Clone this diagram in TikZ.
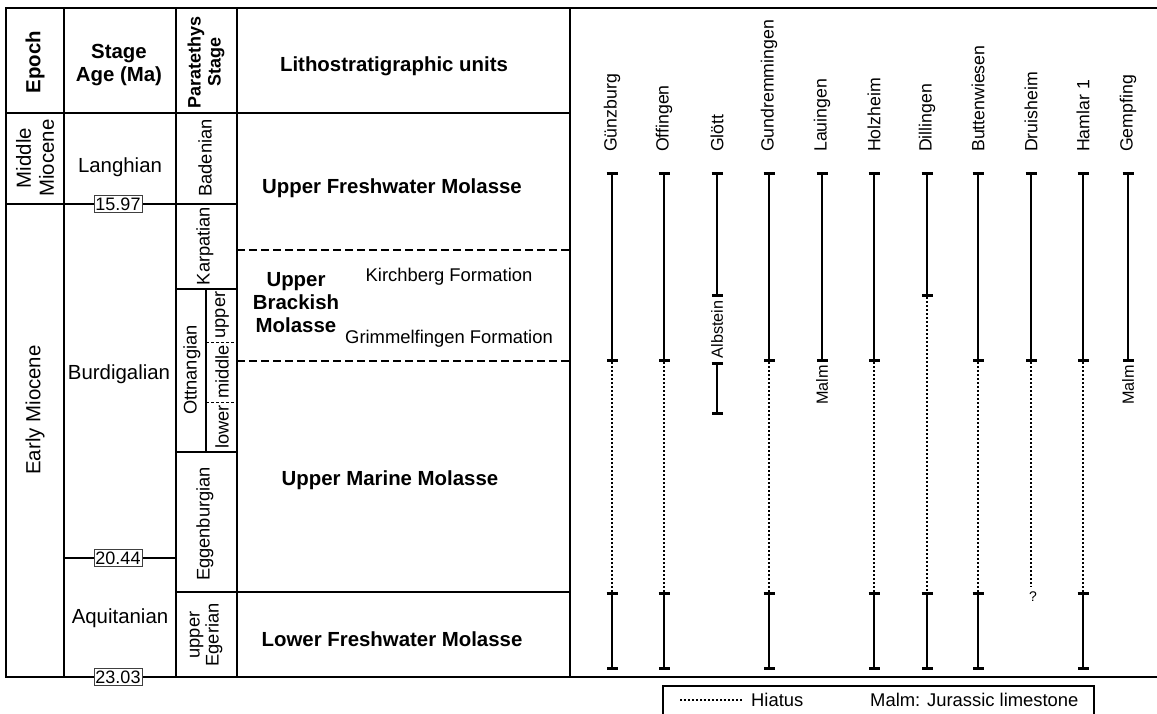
\documentclass[tikz,border=0pt]{standalone}
\usepackage{fontspec}
\setmainfont{Liberation Sans}
\usetikzlibrary{arrows.meta}
\newcommand{\sizefont}[2]{\fontsize{#1pt}{#2pt}\selectfont}
\tikzset{every node/.style={font=\sizefont{18.4}{20}, inner sep=0pt}}
\colorlet{linecol}{black}
\colorlet{boxcol}{black!75}
\tikzset{
  tabline/.style={line width=2.3pt, linecol},
  unitline/.style={line width=1.6pt, linecol, dash pattern=on 8pt off 4pt},
  subline/.style={line width=0.8pt, linecol, dash pattern=on 3pt off 2pt},
  boldlab/.style={font=\sizefont{20.4}{23}\bfseries, align=center},
  bigrot/.style={font=\sizefont{20.4}{23}, rotate=90, align=center},
  rotlab/.style={font=\sizefont{18.3}{19}, rotate=90, align=center},
  agebox/.style={draw=boxcol, fill=white, line width=0.8pt, minimum width=48pt,
    minimum height=17pt, font=\sizefont{18}{18}},
  wellname/.style={rotate=90, anchor=west, font=\sizefont{17.7}{18}},
  smalllab/.style={rotate=90, font=\sizefont{16.2}{16}},
  wellbar/.style={line width=2pt,
    arrows={Bar[width=11pt, line width=2.6pt]-Bar[width=11pt, line width=2.6pt]}},
  hiatus/.style={line width=2pt, dash pattern=on 2pt off 2pt},
}

\begin{document}
\begin{tikzpicture}[x=1pt, y=-1pt]
  \useasboundingbox (0,0) rectangle (1157,713);

  % Frame and columns.
  \draw[tabline] (1157,8) -- (6,8) -- (6,677) -- (1157,677);
  \foreach \cx in {64,176,237,570}
    \draw[tabline] (\cx,8) -- (\cx,677);
  \draw[tabline] (6,113) -- (570,113);

  % Time boundaries.
  \draw[tabline] (6,204) -- (237,204);
  \draw[tabline] (176,289) -- (237,289);
  \draw[tabline] (176,452) -- (237,452);
  \draw[tabline] (64,558) -- (176,558);
  \draw[tabline] (176,592) -- (570,592);
  \draw[tabline] (206,289) -- (206,452);
  \draw[subline] (206,342) -- (237,342);
  \draw[subline] (206,402) -- (237,402);

  % Unit boundaries.
  \draw[unitline] (237,250) -- (570,250);
  \draw[unitline] (237,361) -- (570,361);

  % Header.
  \node[boldlab, rotate=90] (epochhd) at (35,62) {Epoch};
  \node[boldlab] (stagehd) at (119,65) {Stage\\Age (Ma)};
  \node[boldlab, font=\sizefont{18}{20}\bfseries, rotate=90] (parahd) at (206,62) {Paratethys\\Stage};
  \node[boldlab] (lithohd) at (394,66) {Lithostratigraphic units};

  % Epochs and stages.
  \node[bigrot] (midmio) at (35,158) {Middle\\Miocene};
  \node[bigrot] (earlymio) at (35,410) {Early Miocene};
  \node[font=\sizefont{20.4}{22}] (langh) at (120,167) {Langhian};
  \node[font=\sizefont{20.4}{22}] (burd) at (119,374) {Burdigalian};
  \node[font=\sizefont{20.4}{22}] (aquit) at (120,618) {Aquitanian};

  % Ages.
  \node[agebox] (age1597) at (118,204) {15.97};
  \node[agebox] (age2044) at (118,558) {20.44};
  \node[agebox] (age2303) at (118,677) {23.03};

  % Paratethys stages.
  \node[rotlab] (baden) at (205,158) {Badenian};
  \node[rotlab] (karp) at (205,246) {Karpatian};
  \node[rotlab] (ottn) at (192,370) {Ottnangian};
  \node[rotlab] (ottup) at (222,315) {upper};
  \node[rotlab] (ottmid) at (222,372) {middle};
  \node[rotlab] (ottlow) at (222,427) {lower};
  \node[rotlab] (eggen) at (205,524) {Eggenburgian};
  \node[rotlab] (eger) at (206,635) {upper\\Egerian};

  % Lithostratigraphic units.
  \node[boldlab] (ufm) at (392,188) {Upper Freshwater Molasse};
  \node[boldlab] (ubm) at (296,303) {Upper\\Brackish\\Molasse};
  \node (kirch) at (449,277) {Kirchberg Formation};
  \node (grimm) at (449,339) {Grimmelfingen Formation};
  \node[boldlab] (umm) at (390,480) {Upper Marine Molasse};
  \node[boldlab] (lfm) at (392,639) {Lower Freshwater Molasse};

  % Well names.
  \foreach \wx/\wname [count=\i] in {612/Günzburg, 664/Offingen, 717/Glött,
      769/Gundremmingen, 822/Lauingen, 874/Holzheim, 927/Dillingen,
      978/Buttenwiesen, 1031/Druisheim, 1083/Hamlar 1, 1128/Gempfing}
    \node[wellname] (well\i) at (\wx,152) {\wname};

  % Wells with solid -- hiatus -- solid record.
  \foreach \wx in {612,664,769,874,978,1083} {
    \draw[hiatus] (\wx,362) -- (\wx,592);
    \draw[wellbar] (\wx,172) -- (\wx,362);
    \draw[wellbar] (\wx,592) -- (\wx,670);
  }

  % Dillingen.
  \draw[hiatus] (927,297) -- (927,592);
  \draw[wellbar] (927,172) -- (927,297);
  \draw[wellbar] (927,592) -- (927,670);

  % Glött.
  \draw[wellbar] (717,172) -- (717,297);
  \node[smalllab] (albstein) at (717,329.5) {Albstein};
  \draw[wellbar] (717,362) -- (717,415);

  % Wells ending in Malm.
  \foreach \wx/\wn in {822/lau,1128/gem} {
    \draw[wellbar] (\wx,172) -- (\wx,362);
    \node[smalllab] (malm\wn) at (\wx,385) {Malm};
  }

  % Druisheim.
  \draw[hiatus] (1031,362) -- (1031,587);
  \draw[wellbar] (1031,172) -- (1031,362);
  \node[font=\sizefont{14}{14}] (query) at (1033,597) {?};

  % Legend.
  \draw[line width=1.6pt] (663,730) |- (1094,686) -- (1094,730);
  \draw[hiatus, line width=1.5pt] (680,700) -- (742,700);
  \node[anchor=west] (leghiatus) at (751,700) {Hiatus};
  \node[anchor=west] (legmalm) at (870,700) {Malm: Jurassic limestone};

\end{tikzpicture}
\end{document}
